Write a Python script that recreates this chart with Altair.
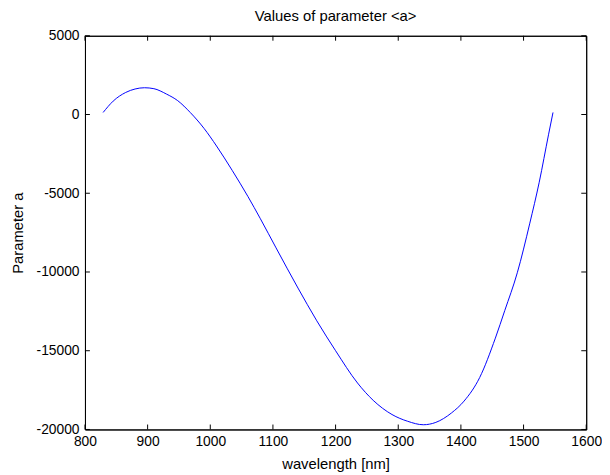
import altair as alt
import pandas as pd

wavelength = [829, 845, 865, 880, 895, 910, 930, 948, 968, 990, 1010, 1035, 1060, 1080,
              1105, 1140, 1170, 1200, 1235, 1260, 1290, 1315, 1340, 1360, 1385, 1405,
              1430, 1455, 1470, 1490, 1510, 1525, 1540, 1547]
param_a = [130, 850, 1400, 1620, 1700, 1640, 1300, 880, 130, -880, -2000, -3550, -5200,
           -6620, -8470, -11020, -13100, -15000, -17050, -18150, -19050, -19480, -19700,
           -19550, -18950, -18200, -16700, -14200, -12450, -10050, -6900, -4300, -1250, 130]
x_ticks = [800, 900, 1000, 1100, 1200, 1300, 1400, 1500, 1600]
y_ticks = [-20000, -15000, -10000, -5000, 0, 5000]

W, H = 508, 399
FONT = "Liberation Sans"
TL = 5

df = pd.DataFrame({"wavelength": wavelength, "a": param_a})
xt = pd.DataFrame({"wavelength": x_ticks})
yt = pd.DataFrame({"a": y_ticks})

xscale = alt.Scale(domain=[800, 1600], nice=False, zero=False)
yscale = alt.Scale(domain=[-20000, 5000], nice=False, zero=False)

line = alt.Chart(df).mark_line(color="#0000ff", strokeWidth=1, interpolate="monotone").encode(
    x=alt.X("wavelength:Q", scale=xscale,
            axis=alt.Axis(orient="bottom", values=x_ticks, title="wavelength [nm]",
                          tickSize=0, domain=True, domainColor="#000", domainWidth=1,
                          grid=False, labelPadding=5, labelFontSize=14,
                          titleFontSize=15, titleFontWeight="normal", titlePadding=9,
                          labelColor="#000", titleColor="#000", labelFont=FONT,
                          titleFont=FONT, labelExpr="'' + datum.value",
                          labelFlush=False)),
    y=alt.Y("a:Q", scale=yscale,
            axis=alt.Axis(orient="left", values=y_ticks, title="Parameter a", tickSize=0,
                          domain=True, domainColor="#000", domainWidth=1,
                          grid=False, labelPadding=6, labelFontSize=14,
                          titleFontSize=15, titleFontWeight="normal",
                          labelColor="#000", titleColor="#000", labelFont=FONT,
                          titleFont=FONT, labelExpr="'' + datum.value",
                          titleX=-63, titleY=H / 2,
                          titleBaseline="alphabetic", titleAngle=270)),
)

# top and right edges of the box come from extra axes that show only a domain line
tx = alt.Chart(xt).mark_rule(color="#000", strokeWidth=1).encode(
    x=alt.X("wavelength:Q", scale=xscale,
            axis=alt.Axis(orient="top", values=x_ticks, labels=False, ticks=False,
                          domain=True, domainColor="#000", domainWidth=1, grid=False,
                          title=None)),
    y=alt.value(0), y2=alt.value(TL))
ry = alt.Chart(yt).mark_rule(color="#000", strokeWidth=1).encode(
    y=alt.Y("a:Q", scale=yscale,
            axis=alt.Axis(orient="right", values=y_ticks, labels=False, ticks=False,
                          domain=True, domainColor="#000", domainWidth=1, grid=False,
                          title=None)),
    x=alt.value(W), x2=alt.value(W - TL))
bx = alt.Chart(xt).mark_rule(color="#000", strokeWidth=1).encode(
    x=alt.X("wavelength:Q", scale=xscale, axis=None), y=alt.value(H), y2=alt.value(H - TL))
ly = alt.Chart(yt).mark_rule(color="#000", strokeWidth=1).encode(
    y=alt.Y("a:Q", scale=yscale, axis=None), x=alt.value(0), x2=alt.value(TL))

chart = alt.layer(line, tx, ry, bx, ly).resolve_axis(
    x="independent", y="independent"
).properties(
    width=W, height=H,
    background="white",
    title=alt.TitleParams("Values of parameter <a>", fontSize=15, fontWeight="normal",
                          font=FONT, color="#000", offset=5),
    autosize=alt.AutoSizeParams(type="none"),
    padding={"left": 78, "top": 25, "right": 16, "bottom": 43},
).configure_view(stroke="#000", strokeWidth=1)

chart.save("out.html", embed_options={"renderer": "svg", "actions": False})
